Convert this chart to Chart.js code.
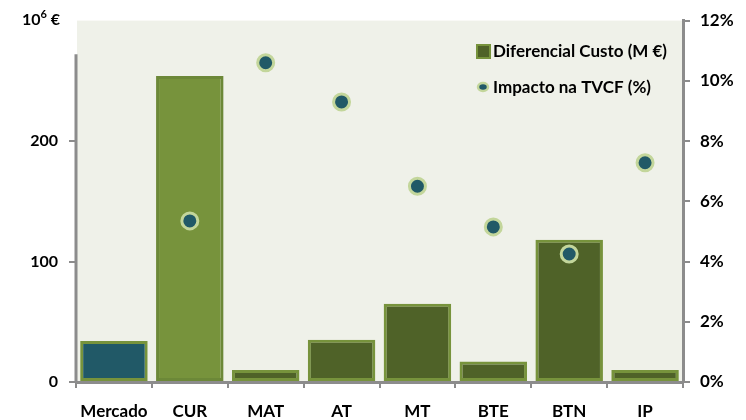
<!DOCTYPE html>
<html lang="pt">
<head>
<meta charset="utf-8">
<title>Diferencial Custo e Impacto na TVCF</title>
<script src="https://cdn.jsdelivr.net/npm/chart.js@4/dist/chart.umd.min.js"></script>
<style>
    body { margin: 0; background: #fff; }
    .wrap { position: relative; width: 746px; height: 420px; }
    .unit {
        position: absolute; left: 22px; top: 8px;
        font: bold 16px 'Lato', sans-serif; color: #000;
    }
    .unit sup { font-size: 11px; position: relative; top: -1px; }
</style>
</head>
<body>
<div class="wrap">
    <canvas id="custoChart" width="746" height="420"></canvas>
    <div class="unit">10<sup>6</sup> €</div>
</div>
<script>
// Segmentos
const categorias = ['Mercado', 'CUR', 'MAT', 'AT', 'MT', 'BTE', 'BTN', 'IP'];
// Diferencial de custo (M €)
const diferencialCusto = [34, 254, 10, 35, 65, 17, 118, 10];
// Impacto na TVCF (%)
const impactoTVCF = [null, 5.35, 10.6, 9.3, 6.5, 5.15, 4.25, 7.28];
// Ticks dos eixos
const ticksCusto = [0, 100, 200];
const ticksImpacto = [0, 2, 4, 6, 8, 10, 12];

const FAMILY = "'Lato', sans-serif";
const AXIS_GREY = '#8c8c8c';

const barFill = categorias.map((c, i) => i === 0 ? '#215967' : (i === 1 ? '#77933c' : '#4f6228'));
const barBorder = categorias.map((c, i) => i === 1 ? '#6c8838' : '#77933c');

// fundo da área do gráfico + eixo esquerdo (só até ~272)
const plotDecor = {
    id: 'plotDecor',
    beforeDraw(chart) {
        const { ctx, chartArea } = chart;
        ctx.save();
        ctx.fillStyle = '#eff1e9';
        ctx.fillRect(chartArea.left + 1, chartArea.top, chartArea.right - chartArea.left - 1, chartArea.bottom - chartArea.top);
        ctx.restore();
    },
    afterDatasetsDraw(chart) {
        const { ctx, chartArea, scales } = chart;
        ctx.save();
        ctx.strokeStyle = AXIS_GREY;
        ctx.lineWidth = 3;
        ctx.beginPath();
        ctx.moveTo(chartArea.left, scales.y.getPixelForValue(272));
        ctx.lineTo(chartArea.left, chartArea.bottom);
        ctx.stroke();
        ctx.restore();
    }
};

// legenda dentro da área do gráfico
const legendaInterna = {
    id: 'legendaInterna',
    afterDraw(chart) {
        const ctx = chart.ctx;
        ctx.save();
        ctx.font = 'bold 17px Lato, sans-serif';
        ctx.textBaseline = 'middle';

        ctx.fillStyle = '#4f6228';
        ctx.strokeStyle = '#77933c';
        ctx.lineWidth = 2;
        ctx.fillRect(477, 45, 13, 13);
        ctx.strokeRect(477, 45, 13, 13);
        ctx.fillStyle = '#000';
        ctx.fillText('Diferencial Custo (M €)', 493, 52);

        ctx.beginPath();
        ctx.ellipse(483, 87, 5, 4, 0, 0, Math.PI * 2);
        ctx.fillStyle = '#215967';
        ctx.fill();
        ctx.strokeStyle = '#c3d69b';
        ctx.lineWidth = 2.5;
        ctx.stroke();
        ctx.fillStyle = '#000';
        ctx.fillText('Impacto na TVCF (%)', 493, 88);
        ctx.restore();
    }
};

document.addEventListener('DOMContentLoaded', function() {
    const ctx = document.getElementById('custoChart');

    new Chart(ctx.getContext('2d'), {
        data: {
            labels: categorias,
            datasets: [{
                type: 'line',
                label: 'Impacto na TVCF (%)',
                data: impactoTVCF,
                yAxisID: 'y1',
                showLine: false,
                pointRadius: 8,
                pointBorderWidth: 3,
                pointBackgroundColor: '#215967',
                pointBorderColor: '#c3d69b',
                order: 1
            }, {
                type: 'bar',
                label: 'Diferencial Custo (M €)',
                data: diferencialCusto,
                yAxisID: 'y',
                backgroundColor: barFill,
                borderColor: barBorder,
                borderWidth: 3,
                borderSkipped: false,
                barPercentage: 0.89,
                categoryPercentage: 1,
                order: 2
            }]
        },
        options: {
            responsive: false,
            animation: false,
            layout: { padding: { top: 20, right: 0, left: 0, bottom: 0 } },
            plugins: {
                legend: { display: false },
                tooltip: { enabled: false }
            },
            scales: {
                x: {
                    offset: true,
                    grid: {
                        offset: true,
                        drawOnChartArea: false,
                        drawTicks: true,
                        tickLength: 6,
                        color: AXIS_GREY,
                        lineWidth: 2
                    },
                    border: { color: AXIS_GREY, width: 3 },
                    ticks: { font: { family: FAMILY, size: 17, weight: 'bold' }, color: '#000', padding: 13 },
                    afterFit(scale) { scale.height = 38; }
                },
                y: {
                    position: 'left',
                    min: 0,
                    max: 300,
                    afterBuildTicks(scale) { scale.ticks = ticksCusto.map(v => ({ value: v })); },
                    grid: {
                        drawOnChartArea: false,
                        drawTicks: true,
                        tickLength: 7,
                        color: AXIS_GREY,
                        lineWidth: 2
                    },
                    border: { display: false },
                    ticks: { font: { family: FAMILY, size: 16, weight: 'bold' }, color: '#000', padding: 11 },
                    afterFit(scale) { scale.width = 76; }
                },
                y1: {
                    position: 'right',
                    min: 0,
                    max: 12,
                    afterBuildTicks(scale) { scale.ticks = ticksImpacto.map(v => ({ value: v })); },
                    grid: {
                        drawOnChartArea: false,
                        drawTicks: true,
                        tickLength: 7,
                        color: AXIS_GREY,
                        lineWidth: 2
                    },
                    border: { color: AXIS_GREY, width: 3 },
                    ticks: {
                        font: { family: FAMILY, size: 17, weight: 'bold' },
                        color: '#000',
                        padding: 10,
                        callback: v => v + '%'
                    },
                    afterFit(scale) { scale.width = 63; }
                }
            }
        },
        plugins: [plotDecor, legendaInterna]
    });
});
</script>
</body>
</html>
